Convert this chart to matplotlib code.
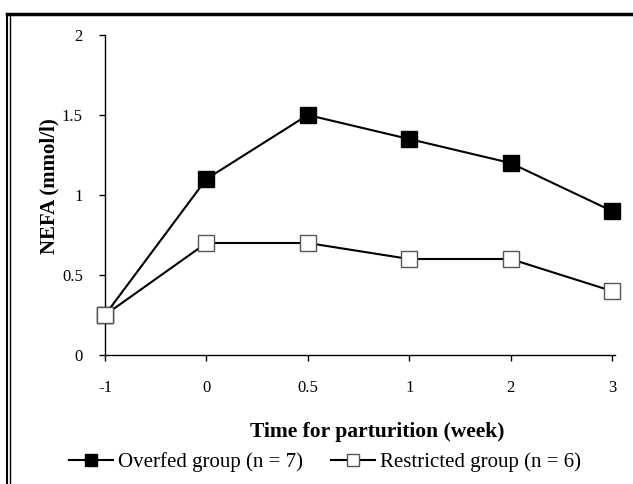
import matplotlib.pyplot as plt
from matplotlib.lines import Line2D

# week labels (evenly spaced categories)
weeks = ['-1', '0', '0.5', '1', '2', '3']
overfed = [0.25, 1.1, 1.5, 1.35, 1.2, 0.9]
restricted = [0.25, 0.7, 0.7, 0.6, 0.6, 0.4]

plt.rcParams['font.family'] = ['Liberation Serif', 'DejaVu Serif']

W, H = 633, 484
fig = plt.figure(figsize=(W / 100, H / 100), dpi=100)
ax = fig.add_axes([105 / W, 1 - 355 / H, (615 - 105) / W, (355 - 35) / H])

x = list(range(len(weeks)))
ax.plot(x, overfed, color='black', lw=1.5, marker='s', ms=11,
        mfc='black', mec='black', label='Overfed group (n = 7)',
        zorder=3, clip_on=False)
ax.plot(x, restricted, color='black', lw=1.5, marker='s', ms=11,
        mfc='white', mec='#555555', label='Restricted group (n = 6)',
        zorder=3, clip_on=False)

ax.set_xlim(0, 5.03)
ax.set_ylim(0, 2)
ax.set_xticks(x)
ax.set_xticklabels(weeks)
ax.set_yticks([0, 0.5, 1, 1.5, 2])
ax.set_yticklabels(['0', '0.5', '1', '1.5', '2'])
ax.tick_params(axis='both', direction='out', length=4, width=1, labelsize=12,
               colors='black')
ax.tick_params(axis='x', pad=14)
ax.tick_params(axis='y', pad=12)
for s in ['top', 'right']:
    ax.spines[s].set_visible(False)
for s in ['left', 'bottom']:
    ax.spines[s].set_linewidth(1)

fig.text(49 / W, 1 - 186 / H, 'NEFA (mmol/l)', rotation=90, fontsize=15,
         fontweight='bold', ha='center', va='center')
fig.text(377 / W, 1 - 432 / H, 'Time for parturition (week)', fontsize=15.5,
         fontweight='bold', ha='center', va='center')

fig.legend(loc='center', bbox_to_anchor=(325 / W, 1 - 462 / H), ncol=2,
           frameon=False, fontsize=15, handlelength=2.1, handletextpad=0.25,
           columnspacing=1.35, markerscale=0.85, borderpad=0)

# outer frame
fig.add_artist(Line2D([6.5 / W, 1], [1 - 14 / H, 1 - 14 / H], color='black',
                      lw=2.5, transform=fig.transFigure))
fig.add_artist(Line2D([7 / W, 7 / W], [0, 1 - 14 / H], color='black',
                      lw=1.5, transform=fig.transFigure))
fig.add_artist(Line2D([9.8 / W, 9.8 / W], [0, 1 - 15 / H], color='black',
                      lw=1.0, transform=fig.transFigure))

fig.savefig('out.png', dpi=100)
